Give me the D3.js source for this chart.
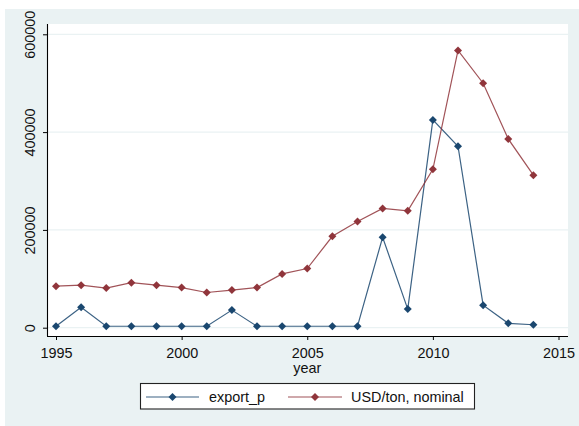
<!DOCTYPE html>
<html>
<head>
<meta charset="utf-8">
<script src="https://cdn.jsdelivr.net/npm/d3@7"></script>
<style>
  html, body { margin: 0; padding: 0; background: #ffffff; }
  svg { display: block; }
  text { font-family: "Liberation Sans", Arial, sans-serif; fill: #111; }
</style>
</head>
<body>
<svg id="chart" width="579" height="426"></svg>
<script>
// Yearly series
const years = [1995, 1996, 1997, 1998, 1999, 2000, 2001, 2002, 2003, 2004,
               2005, 2006, 2007, 2008, 2009, 2010, 2011, 2012, 2013, 2014];
const exportP = [3000, 42000, 3000, 3000, 3000, 3000, 3000, 36000, 3000, 3000,
                 3000, 3000, 3000, 185000, 38000, 425000, 371000, 46000, 9000, 6000];
const usdPerTon = [85000, 87000, 81000, 92000, 87000, 82000, 72000, 77000, 82000, 110000,
                   121000, 187000, 217000, 244000, 239000, 324000, 567000, 500000, 386000, 312000];

const yTicks = [0, 200000, 400000, 600000];
const xTicks = [1995, 2000, 2005, 2010, 2015];
const seriesNames = ["export_p", "USD/ton, nominal"];
const xTitle = "year";

const colors = ["#1a476f", "#90353b"];
const fontSize = "14.4px";

const svg = d3.select("#chart");

// Graph region background
svg.append("rect").attr("x", 5).attr("y", 9).attr("width", 574).attr("height", 417)
  .attr("fill", "#eaf2f3");

// Plot region
const plot = { left: 47, right: 568, top: 24, bottom: 336 };
svg.append("rect")
  .attr("x", plot.left).attr("y", plot.top)
  .attr("width", plot.right - plot.left).attr("height", plot.bottom - plot.top)
  .attr("fill", "#ffffff");

const x = d3.scaleLinear().domain([1995, 2015]).range([56, 558.5]);
const y = d3.scaleLinear().domain([0, 600000]).range([327.7, 34.3]);

// Horizontal grid lines
svg.append("g").selectAll("line").data(yTicks).join("line")
  .attr("x1", plot.left).attr("x2", plot.right)
  .attr("y1", d => y(d)).attr("y2", d => y(d))
  .attr("stroke", "#eaf2f3").attr("stroke-width", 1.3);

// Y axis
const yAxis = svg.append("g")
  .attr("transform", `translate(${plot.left},0)`)
  .call(d3.axisLeft(y).tickValues(yTicks).tickSize(4).tickPadding(0).tickFormat(d3.format("d")));
yAxis.select(".domain").attr("d", `M0.5,${plot.top}V${plot.bottom}`).attr("stroke", "#000").attr("stroke-width", 1.1);
yAxis.selectAll(".tick line").attr("stroke", "#000");
yAxis.selectAll(".tick text")
  .attr("x", null).attr("dy", null)
  .attr("text-anchor", "middle")
  .attr("transform", "translate(-12,0) rotate(-90)")
  .style("font-size", fontSize)
  .style("font-family", "'Liberation Sans', Arial, sans-serif")
  .attr("fill", "#111");

// X axis
const xAxis = svg.append("g")
  .attr("transform", `translate(0,${plot.bottom})`)
  .call(d3.axisBottom(x).tickValues(xTicks).tickSize(4).tickPadding(8).tickFormat(d3.format("d")));
xAxis.select(".domain").attr("d", `M${plot.left},0.5H${plot.right}`).attr("stroke", "#000").attr("stroke-width", 1.1);
xAxis.selectAll(".tick line").attr("stroke", "#000");
xAxis.selectAll(".tick text")
  .style("font-size", fontSize)
  .style("font-family", "'Liberation Sans', Arial, sans-serif")
  .attr("fill", "#111");

svg.append("text")
  .attr("x", (x(1995) + x(2015)) / 2).attr("y", 373)
  .attr("text-anchor", "middle")
  .style("font-size", fontSize)
  .text(xTitle);

// Series lines and diamond markers
const diamond = r => `M0,${-r}L${r},0L0,${r}L${-r},0Z`;
const series = [exportP, usdPerTon];
const line = d3.line().x((d, i) => x(years[i])).y(d => y(d));

series.forEach((vals, s) => {
  svg.append("path").datum(vals)
    .attr("d", line)
    .attr("fill", "none")
    .attr("stroke", colors[s])
    .attr("stroke-opacity", 0.85)
    .attr("stroke-width", 1.2);
});
series.forEach((vals, s) => {
  svg.append("g").selectAll("path").data(vals).join("path")
    .attr("transform", (d, i) => `translate(${x(years[i])},${y(d)})`)
    .attr("d", diamond(4))
    .attr("fill", colors[s]);
});

// Legend
const legend = svg.append("g");
legend.append("rect")
  .attr("x", 140.5).attr("y", 383.5).attr("width", 334).attr("height", 25.5)
  .attr("fill", "#ffffff").attr("stroke", "#222").attr("stroke-width", 1.1);
const legendItems = [
  { x0: 146, x1: 199, tx: 209 },
  { x0: 288, x1: 342, tx: 351 }
];
legendItems.forEach((it, s) => {
  legend.append("line")
    .attr("x1", it.x0).attr("x2", it.x1).attr("y1", 397).attr("y2", 397)
    .attr("stroke", colors[s]).attr("stroke-opacity", 0.85).attr("stroke-width", 1.2);
  legend.append("path")
    .attr("transform", `translate(${(it.x0 + it.x1) / 2},397)`)
    .attr("d", diamond(4))
    .attr("fill", colors[s]);
  legend.append("text")
    .attr("x", it.tx).attr("y", 402)
    .style("font-size", fontSize)
    .text(seriesNames[s]);
});
</script>
</body>
</html>
